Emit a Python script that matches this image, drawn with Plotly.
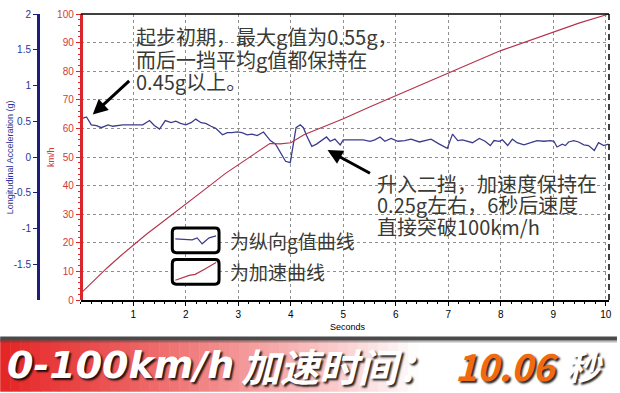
import plotly.graph_objects as go

# ---------------- data ----------------
t_speed = [0, 0.25, 0.5, 0.75, 1.0, 1.25, 1.5, 1.75, 2.0, 2.25, 2.5, 2.75, 3.0, 3.25,
           3.5, 3.6, 3.8, 4.0, 4.25, 4.5, 5.0, 5.5, 6.0, 6.5, 7.0, 7.5, 8.0, 8.5,
           9.0, 9.5, 10.06]
speed_kmh = [2.3, 6.8, 11.2, 15.3, 19.3, 23.0, 26.5, 30.0, 33.3, 37.0, 40.6, 44.2, 47.3,
             50.5, 53.6, 54.7, 54.6, 55.0, 57.8, 59.7, 63.4, 67.5, 71.5, 75.4, 79.3,
             83.3, 87.2, 90.5, 93.8, 96.9, 100.0]

t_g = [0.03, 0.11, 0.20, 0.30, 0.39, 0.52, 0.61, 0.71, 0.80, 0.98, 1.18, 1.31, 1.40,
       1.50, 1.61, 1.72, 1.81, 1.90, 2.00, 2.10, 2.19, 2.29, 2.38, 2.48, 2.57, 2.70,
       2.79, 2.88, 2.98, 3.07, 3.17, 3.26, 3.36, 3.48, 3.61, 3.71, 3.80, 3.90, 3.99,
       4.05, 4.10, 4.18, 4.24, 4.30, 4.40, 4.49, 4.59, 4.68, 4.75, 4.84, 4.94, 5.00,
       5.09, 5.38, 5.51, 5.60, 5.70, 5.79, 5.91, 6.04, 6.17, 6.29, 6.45, 6.58, 6.67,
       6.83, 6.98, 7.08, 7.18, 7.27, 7.37, 7.46, 7.59, 7.70, 7.80, 7.87, 7.97, 8.03,
       8.13, 8.22, 8.31, 8.44, 8.57, 8.69, 8.82, 8.95, 9.01, 9.07, 9.17, 9.23, 9.29,
       9.39, 9.48, 9.58, 9.67, 9.78, 9.86, 9.96, 10.05]
g_val = [0.54, 0.56, 0.45, 0.44, 0.41, 0.45, 0.43, 0.44, 0.45, 0.45, 0.45, 0.51, 0.44,
         0.39, 0.51, 0.48, 0.50, 0.47, 0.45, 0.48, 0.53, 0.48, 0.47, 0.43, 0.40, 0.31,
         0.34, 0.34, 0.35, 0.34, 0.31, 0.32, 0.30, 0.35, 0.23, 0.18, 0.07, -0.06, -0.08,
         0.16, 0.41, 0.45, 0.41, 0.30, 0.15, 0.18, 0.23, 0.28, 0.22, 0.25, 0.17, 0.24,
         0.24, 0.24, 0.22, 0.24, 0.28, 0.22, 0.26, 0.22, 0.23, 0.25, 0.21, 0.24, 0.25,
         0.18, 0.12, 0.32, 0.23, 0.24, 0.22, 0.20, 0.26, 0.22, 0.16, 0.23, 0.22, 0.24,
         0.16, 0.25, 0.20, 0.17, 0.20, 0.23, 0.22, 0.23, 0.22, 0.14, 0.18, 0.16, 0.21,
         0.23, 0.21, 0.17, 0.16, 0.09, 0.20, 0.16, 0.18]

x_ticks = [1, 2, 3, 4, 5, 6, 7, 8, 9, 10]
g_ticks = [2, 1.5, 1, 0.5, 0, -0.5, -1, -1.5]
g_ticktext = ["2", "1.5", "1", "0.5", "0", "-0.5", "-1", "-1.5"]

note1 = ["起步初期，最大g值为0.55g，", "而后一挡平均g值都保持在", "0.45g以上。"]
note2 = ["升入二挡，加速度保持在", "0.25g左右，6秒后速度", "直接突破100km/h"]
legend_txt = ["为纵向g值曲线", "为加速曲线"]
banner_parts = ["0-100km/h", "加速时间：", "10.06", "秒"]

# ---------------- geometry helpers (pixel -> paper) ----------------
W, H = 620, 393
PL, PR, PT, PB = 38, 612, 10, 300


def xp(x):
    return (x - PL) / (PR - PL)


def yp(y):
    return (PB - y) / (PB - PT)


CJK = "Noto Sans CJK SC"
NAVY = "#1c1f7a"
BLUE_TXT = "#2b3596"
RED_AX = "#d8262a"
RED_TXT = "#d03a3a"
TXT = "#3a3a34"

fig = go.Figure()
fig.add_trace(go.Scatter(x=t_speed, y=speed_kmh, mode="lines", yaxis="y2",
                         line=dict(color="#b4324a", width=1.1), showlegend=False))
fig.add_trace(go.Scatter(x=t_g, y=g_val, mode="lines", yaxis="y",
                         line=dict(color="#3b3c8e", width=1.3), showlegend=False))

fig.update_layout(
    width=W, height=H,
    margin=dict(l=PL, r=W - PR, t=PT, b=H - PB),
    paper_bgcolor="white", plot_bgcolor="white",
    font=dict(family="Arial, Liberation Sans, sans-serif"),
    xaxis=dict(domain=[xp(81), 1], range=[0, 10.06], anchor="y2",
               tickvals=x_ticks, ticktext=[str(v) for v in x_ticks],
               tickfont=dict(size=10, color="black"),
               showline=True, linecolor="black", linewidth=2,
               ticks="outside", ticklen=4, tickcolor="black",
               minor=dict(dtick=0.2, tick0=0, ticks="outside", ticklen=2,
                          tickcolor="black", showgrid=False),
               showgrid=True, gridcolor="#8f8f8f", griddash="3px,3px", gridwidth=1,
               zeroline=False),
    yaxis=dict(range=[-2, 2], anchor="free", position=0, side="left",
               tickvals=g_ticks, ticktext=g_ticktext,
               tickfont=dict(size=10, color=BLUE_TXT),
               showline=True, linecolor=NAVY, linewidth=3,
               ticks="outside", ticklen=4, tickcolor=NAVY,
               showgrid=False, zeroline=False),
    yaxis2=dict(range=[0, 100], overlaying="y", anchor="free", position=xp(81),
                side="left", dtick=10, tick0=0,
                tickfont=dict(size=10, color=RED_TXT),
                showline=True, linecolor=RED_AX, linewidth=3,
                ticks="outside", ticklen=4, tickcolor=RED_AX,
                minor=dict(dtick=2, ticks="outside", ticklen=2, tickcolor=RED_AX,
                           showgrid=False),
                showgrid=True, gridcolor="#8f8f8f", griddash="3px,3px", gridwidth=1,
                zeroline=False),
)

shapes = []
# frame: top solid, right dashed
shapes.append(dict(type="line", xref="paper", yref="paper", x0=xp(81), x1=1, y0=1, y1=1,
                   line=dict(color="black", width=1.5)))
shapes.append(dict(type="line", xref="paper", yref="paper", x0=1, x1=1, y0=0, y1=1,
                   line=dict(color="black", width=1.5, dash="6px,4px")))


# legend boxes (rounded)
def rbox(x0, y0, x1, y1, r=4):
    X0, X1 = xp(x0), xp(x1)
    Y0, Y1 = yp(y0), yp(y1)
    rx = r / (PR - PL)
    ry = r / (PB - PT)
    return (f"M {X0+rx} {Y0} L {X1-rx} {Y0} Q {X1} {Y0} {X1} {Y0-ry} "
            f"L {X1} {Y1+ry} Q {X1} {Y1} {X1-rx} {Y1} L {X0+rx} {Y1} "
            f"Q {X0} {Y1} {X0} {Y1+ry} L {X0} {Y0-ry} Q {X0} {Y0} {X0+rx} {Y0} Z")


for (y0, y1) in [(227, 252), (259, 284)]:
    shapes.append(dict(type="path", xref="paper", yref="paper", path=rbox(173, y0, 220, y1),
                       fillcolor="white", line=dict(color="black", width=3)))

# legend samples
blue_pts = [(176, 238), (193, 239), (198, 237), (203, 243), (210, 237), (217, 235)]
red_pts = [(176, 280), (190, 275), (196, 274), (205, 269), (217, 262)]
for pts, col in [(blue_pts, "#3b3c8e"), (red_pts, "#b4324a")]:
    p = "M " + " L ".join(f"{xp(a)} {yp(b)}" for a, b in pts)
    shapes.append(dict(type="path", xref="paper", yref="paper", path=p,
                       line=dict(color=col, width=1.2)))


# banner gradient
def lerp(c1, c2, f):
    return tuple(int(round(a + (b - a) * f)) for a, b in zip(c1, c2))


stops = [(0, (229, 36, 36)), (120, (236, 88, 88)), (240, (243, 150, 150)),
         (340, (250, 205, 205)), (420, (255, 255, 255)), (620, (255, 255, 255))]
N = 62
for i in range(N):
    xa = i * W / N
    xb = (i + 1) * W / N
    xm = (xa + xb) / 2
    for (s0, c0), (s1, c1) in zip(stops[:-1], stops[1:]):
        if s0 <= xm <= s1:
            c = lerp(c0, c1, (xm - s0) / (s1 - s0))
            break
    shapes.append(dict(type="rect", xref="paper", yref="paper", x0=xp(xa), x1=xp(xb + 0.5),
                       y0=yp(393), y1=yp(340), fillcolor=f"rgb{c}", line=dict(width=0),
                       layer="below"))
shapes.append(dict(type="rect", xref="paper", yref="paper", x0=xp(0), x1=xp(620),
                   y0=yp(341), y1=yp(337), fillcolor="#4a4a4a", line=dict(width=0)))
shapes.append(dict(type="rect", xref="paper", yref="paper", x0=xp(0), x1=xp(620),
                   y0=yp(343), y1=yp(341), fillcolor="rgba(60,60,60,0.35)", line=dict(width=0)))
fig.update_layout(shapes=shapes)

ann = []
for i, s in enumerate(note1):
    ann.append(dict(text=s, xref="paper", yref="paper", x=xp(135), y=yp([33, 56, 78][i]),
                    xanchor="left", yanchor="middle", showarrow=False,
                    font=dict(family=CJK, size=20, color=TXT)))
for i, s in enumerate(note2):
    ann.append(dict(text=s, xref="paper", yref="paper", x=xp(377), y=yp([182, 203, 225][i]),
                    xanchor="left", yanchor="middle", showarrow=False,
                    font=dict(family=CJK, size=20, color=TXT)))
for i, s in enumerate(legend_txt):
    ann.append(dict(text=s, xref="paper", yref="paper", x=xp(229), y=yp([240, 271][i]),
                    xanchor="left", yanchor="middle", showarrow=False,
                    font=dict(family=CJK, size=19, color=TXT)))
# arrows
ann.append(dict(text="", xref="paper", yref="paper", x=xp(93), y=yp(112),
                ax=38, ay=-35, axref="pixel", ayref="pixel", showarrow=True,
                arrowhead=2, arrowsize=1, arrowwidth=3, arrowcolor="black"))
ann.append(dict(text="", xref="paper", yref="paper", x=xp(329), y=yp(148),
                ax=44, ay=24, axref="pixel", ayref="pixel", showarrow=True,
                arrowhead=2, arrowsize=1, arrowwidth=3, arrowcolor="black"))
# axis titles
ann.append(dict(text="Longitudinal Acceleration (g)", xref="paper", yref="paper",
                x=xp(10), y=yp(155), textangle=-90, showarrow=False,
                xanchor="center", yanchor="middle",
                font=dict(size=9, color=BLUE_TXT)))
ann.append(dict(text="km/h", xref="paper", yref="paper", x=xp(51), y=yp(155),
                textangle=-90, showarrow=False, xanchor="center", yanchor="middle",
                font=dict(size=9, color=RED_TXT)))
ann.append(dict(text="Seconds", xref="paper", yref="paper", x=xp(350), y=yp(327),
                showarrow=False, xanchor="center", yanchor="middle",
                font=dict(size=9, color="black")))
# banner text
shadow = "2px 2px 2px rgba(0,0,0,0.85)"
BY = 366
ann.append(dict(text=f"<b><i>{banner_parts[0]}</i></b>", xref="paper", yref="paper",
                x=xp(5), y=yp(BY), xanchor="left", yanchor="middle", showarrow=False,
                font=dict(family="DejaVu Sans", size=38, color="white", shadow=shadow)))
ann.append(dict(text=f"<b><i>{banner_parts[1]}</i></b>", xref="paper", yref="paper",
                x=xp(240), y=yp(BY), xanchor="left", yanchor="middle", showarrow=False,
                font=dict(family=CJK, size=39, color="white", shadow=shadow)))
ann.append(dict(text=f"<b><i>{banner_parts[2]}</i></b>", xref="paper", yref="paper",
                x=xp(455), y=yp(BY), xanchor="left", yanchor="middle", showarrow=False,
                font=dict(family=CJK, size=37, color="#f26a10", shadow=shadow)))
ann.append(dict(text=f"<b><i>{banner_parts[3]}</i></b>", xref="paper", yref="paper",
                x=xp(567), y=yp(BY), xanchor="left", yanchor="middle", showarrow=False,
                font=dict(family=CJK, size=34, color="white", shadow=shadow)))
fig.update_layout(annotations=ann)

fig.write_html("out.html")
